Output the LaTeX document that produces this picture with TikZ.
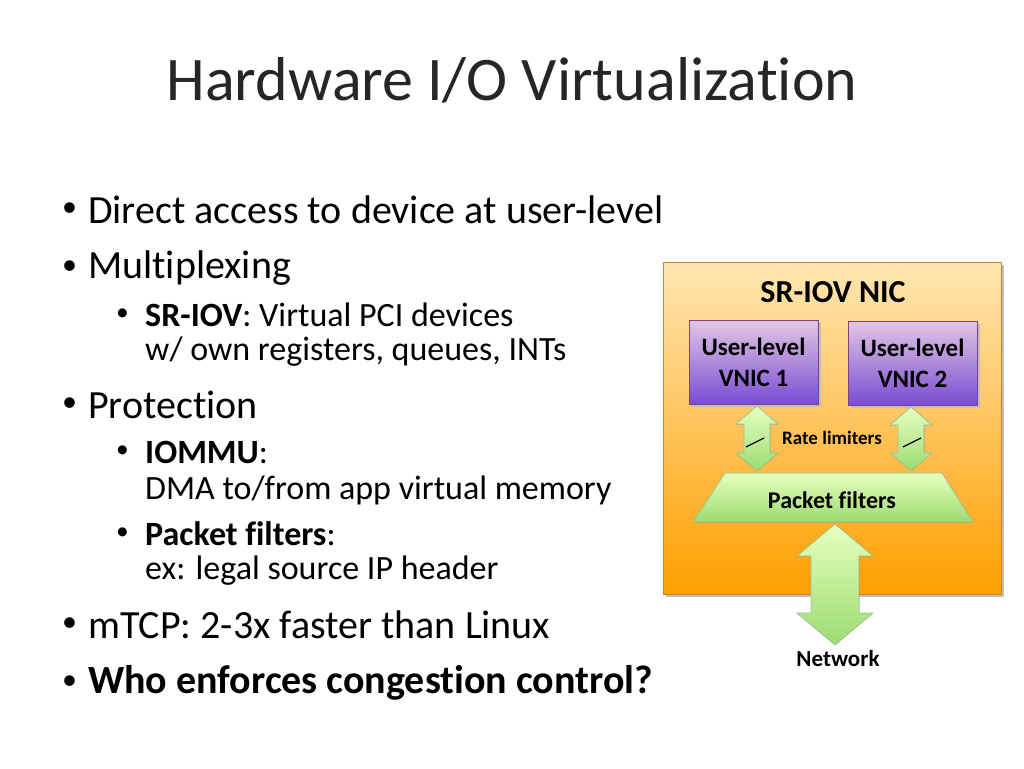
\documentclass[tikz,border=0pt]{standalone}
\usepackage{fontspec}
\setmainfont[RawFeature={-liga;-clig}]{Carlito}
\usetikzlibrary{shapes.geometric}
\newcommand\myarrow[6]{% cx, ytop, ybot, halfw, halfshaft, headlen
  \fill[shade,top color=green!20!lime!25!white,bottom color=green!45!lime!60!gray!70,draw=green!40!black!40,line width=0.6pt]
  (#1,#2) -- (#1+#4,#2+#6) -- (#1+#5,#2+#6) -- (#1+#5,#3-#6) -- (#1+#4,#3-#6) -- (#1,#3)
  -- (#1-#4,#3-#6) -- (#1-#5,#3-#6) -- (#1-#5,#2+#6) -- (#1-#4,#2+#6) -- cycle;}
\newcommand\bsym{\raisebox{0.02em}{\scalebox{0.75}{•}}}
\tikzset{
  bul/.style={anchor=west,font=\fontsize{40}{44}\selectfont,inner sep=0},
  sub/.style={anchor=west,font=\fontsize{34}{38}\selectfont,inner sep=0},
  vnic/.style={draw=violet!50!gray,line width=0.8pt,top color=violet!22!white,bottom color=violet!50!blue!70!white,
    minimum width=129pt,minimum height=84pt,align=center,font=\bfseries\fontsize{25}{31}\selectfont},
}
\begin{document}
\begin{tikzpicture}[x=1pt,y=-1pt]
\useasboundingbox (0,0) rectangle (1024,768);
\fill[white] (0,0) rectangle (1024,768);
\node[font=\fontsize{62}{66}\selectfont,inner sep=0,text=black!85] (title) at (512,80) {Hardware I/O Virtualization};
\node[bul] (b1d) at (62,210) {\bsym}; \node[bul] (b1) at (88,210) {Direct access to device at user-level};
\node[bul] (b2d) at (62,268) {\bsym}; \node[bul] (b2) at (88,268) {Multiplexing};
\node[sub] (s1d) at (116,315) {\bsym}; \node[sub] (s1) at (145,315) {\textbf{SR-IOV}: Virtual PCI devices};
\node[sub] (s1b) at (145,352) {w/ own registers, queues, INTs};
\node[bul] (b3d) at (62,405) {\bsym}; \node[bul] (b3) at (88,405) {Protection};
\node[sub] (s2d) at (116,452) {\bsym}; \node[sub] (s2) at (145,452) {\textbf{IOMMU}:};
\node[sub] (s2b) at (145,490) {DMA to/from app virtual memory};
\node[sub] (s3d) at (116,534) {\bsym}; \node[sub] (s3) at (145,534) {\textbf{Packet filters}:};
\node[sub] (s3b) at (145,571) {ex: legal source IP header};
\node[bul] (b4d) at (62,625) {\bsym}; \node[bul] (b4) at (88,625) {mTCP: 2-3x faster than Linux};
\node[bul] (b5d) at (62,683) {\bsym}; \node[bul] (b5) at (88,683) {\textbf{Who enforces congestion control?}};
% NIC
\fill[black!25] (666,265) rectangle (1004,597);
\node[draw=orange!60!gray,line width=0.6pt,top color=yellow!35!orange!30!white,bottom color=orange!75!yellow,
  minimum width=338pt,minimum height=332pt,inner sep=0] (nic) at (832,428) {};
\node[font=\bfseries\fontsize{32}{34}\selectfont] (nict) at (833,292) {SR-IOV NIC};
\fill[black!25] (692,323) rectangle (821,407);
\fill[black!25] (851,324) rectangle (980,408);
\node[vnic] (v1) at (753.5,362) {User-level\\VNIC 1};
\node[vnic] (v2) at (912.5,363) {User-level\\VNIC 2};
\myarrow{757}{406}{471}{21}{13}{18}
\myarrow{911}{407}{471}{21}{13}{18}
\draw[line width=1.2pt] (746,447) -- (764,438);
\draw[line width=1.2pt] (903,447) -- (921,438);
\node[font=\bfseries\fontsize{19}{22}\selectfont] (rl) at (832,438) {Rate limiters};
\fill[shade,top color=green!20!lime!25!white,bottom color=green!45!lime!60!gray!70,draw=green!40!black!40,line width=0.6pt]
  (725,473) -- (942,473) -- (973,522) -- (693,522) -- cycle;
\node[font=\bfseries\fontsize{24}{26}\selectfont] (pf) at (832,500) {Packet filters};
\myarrow{835}{524}{645}{38}{24}{32}
\node[font=\bfseries\fontsize{23}{24}\selectfont] (net) at (838,659) {Network};
\end{tikzpicture}
\end{document}
